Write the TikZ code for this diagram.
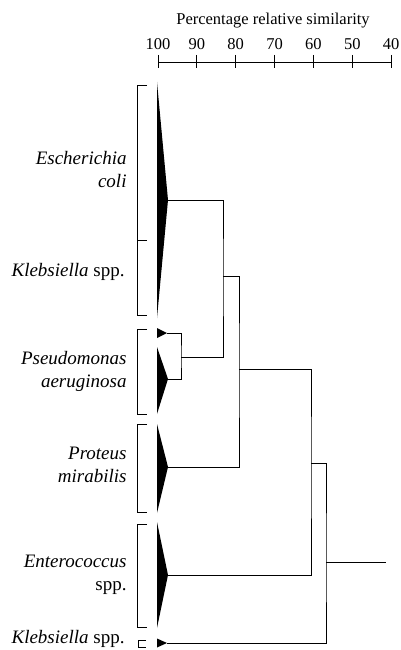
\documentclass[tikz,border=0pt]{standalone}
\usepackage{fontspec}
\setmainfont{Liberation Serif}

\begin{document}
\begin{tikzpicture}[x=1pt, y=-1pt, line width=0.9pt,
  lbl/.style={anchor=east, align=right, inner sep=0pt, font=\fontsize{19}{23}\selectfont},
  num/.style={inner sep=0pt, font=\fontsize{16.5}{18}\selectfont},
  clade/.style={fill=black, draw=none}]
  \useasboundingbox (0,0) rectangle (401,650);
  % scale
  \node[num] (title) at (273,21) {Percentage relative similarity};
  \draw (158,62) -- (391,62);
  \foreach \p in {100,90,...,40} {
    \draw ({158+(100-\p)*3.887},55) -- ++(0,13);
    \node[num] (n\p) at ({158+(100-\p)*3.887},44) {\p};
  }
  % groups
  \node[lbl] (ecoli)  at (127,169)   {\textit{Escherichia}\\\textit{coli}};
  \node[lbl] (kleba)  at (125,272)   {\textit{Klebsiella} spp.};
  \node[lbl] (pseud)  at (127,371)   {\textit{Pseudomonas}\\\textit{aeruginosa}};
  \node[lbl] (prot)   at (127,464.5) {\textit{Proteus}\\\textit{mirabilis}};
  \node[lbl] (entero) at (127,574.5) {\textit{Enterococcus}\\spp.};
  \node[lbl] (klebb)  at (125,639)   {\textit{Klebsiella} spp.};
  \draw (147,85) -| (137,315) -- (147,315);
  \draw (137,240) -- (147,240);
  \draw (147,329) -| (137,414) -- (147,414);
  \draw (147,424) -| (137,512) -- (147,512);
  \draw (147,524) -| (137,627) -- (147,627);
  \draw (146,640) -| (138,647) -- (146,647);
  % clusters
  \coordinate (t1) at (168,200);
  \coordinate (t2a) at (167,333);
  \coordinate (t2b) at (168,379);
  \coordinate (t3) at (168,467);
  \coordinate (t4) at (168,575);
  \coordinate (t5) at (167,643);
  \fill[clade] (157,82) -- (t1) -- (157,318) -- cycle;
  \fill[clade] (157,328) -- (t2a) -- (157,338) -- cycle;
  \fill[clade] (157,347) -- (t2b) -- (157,414) -- cycle;
  \fill[clade] (157,424) -- (t3) -- (157,513) -- cycle;
  \fill[clade] (157,522) -- (t4) -- (157,628) -- cycle;
  \fill[clade] (157,638.5) -- (t5) -- (157,647.5) -- cycle;
  % joins
  \coordinate (j1) at (181,357);
  \coordinate (j2) at (223,276);
  \coordinate (j3) at (239,369);
  \coordinate (j4) at (311,463);
  \coordinate (j5) at (326,562);
  \coordinate (root) at (386,562);
  \draw (t2a) -| (j1) |- (t2b);
  \draw (t1) -| (j2) |- (j1);
  \draw (j2) -| (j3) |- (t3);
  \draw (j3) -| (j4) |- (t4);
  \draw (j4) -| (j5) |- (t5);
  \draw (j5) -- (root);
\end{tikzpicture}
\end{document}
